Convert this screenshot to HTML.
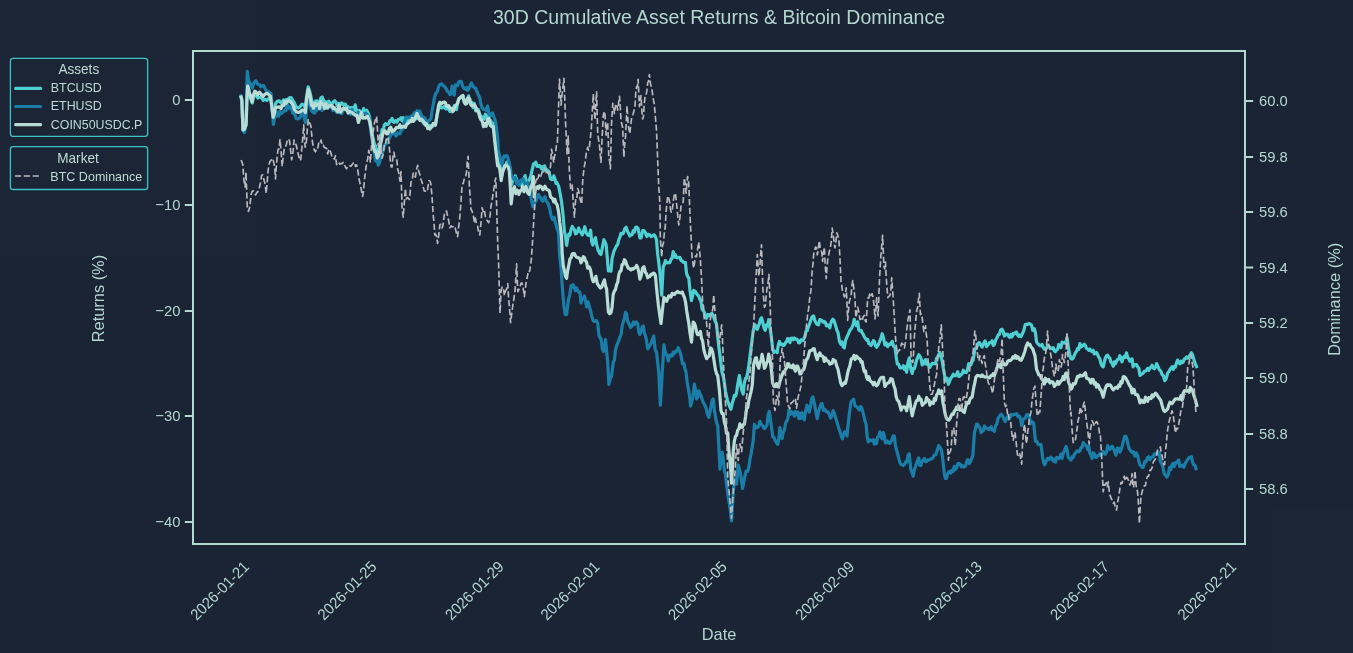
<!DOCTYPE html>
<html><head><meta charset="utf-8"><title>30D Cumulative Asset Returns &amp; Bitcoin Dominance</title>
<style>
html,body{margin:0;padding:0;background:#1c2536;}
body{width:1353px;height:653px;overflow:hidden;}
svg{display:block;will-change:transform;opacity:0.999;}
text{font-family:"Liberation Sans",Arial,sans-serif;fill:#b3d7d1;}
.tk{font-size:14.8px;}
.ax{font-size:16.4px;}
.lg{font-size:12.4px;fill:#bedcd6;}
.lt{font-size:13.6px;fill:#bedcd6;}
</style></head><body>
<svg width="1353" height="653" viewBox="0 0 1353 653">
<rect x="0" y="0" width="1353" height="653" fill="#1c2536"/>
<text x="719" y="24.1" text-anchor="middle" style="font-size:19.5px">30D Cumulative Asset Returns &amp; Bitcoin Dominance</text>
<g fill="none" stroke-linejoin="round" stroke-linecap="butt">
<path d="M240.6 95.5 L241.8 100.5 L243.0 130.1 L244.3 130.6 L246.1 122.9 L247.0 95.1 L247.7 85.7 L249.2 90.8 L250.4 97.7 L252.2 103.1 L253.4 96.9 L254.7 94.9 L255.9 95.2 L257.7 98.0 L259.6 97.3 L261.4 97.0 L263.2 100.4 L265.1 99.3 L266.9 100.5 L268.8 98.2 L270.6 97.8 L271.8 106.6 L273.1 115.3 L274.3 109.9 L275.5 103.7 L277.3 101.3 L279.2 100.9 L281.0 103.0 L282.2 101.9 L283.5 100.0 L284.7 101.3 L285.9 99.9 L287.8 99.4 L289.6 97.6 L291.4 97.9 L292.7 100.3 L294.5 103.1 L296.3 107.3 L298.2 107.9 L300.0 106.8 L301.9 104.2 L303.7 105.0 L305.3 107.7 L306.5 97.5 L308.2 86.9 L309.8 91.6 L311.4 98.8 L312.4 103.5 L313.5 102.5 L314.7 104.0 L315.9 100.9 L317.1 100.9 L318.4 102.4 L319.6 102.9 L320.8 97.8 L322.1 97.0 L323.3 99.8 L324.6 102.1 L325.8 101.9 L327.3 102.6 L328.8 101.3 L330.4 103.4 L332.0 103.5 L333.4 102.0 L334.7 100.7 L336.1 102.5 L337.4 106.0 L338.8 103.3 L340.1 104.8 L341.5 102.9 L342.8 104.4 L344.2 104.1 L345.5 104.4 L346.9 108.1 L348.2 106.8 L349.6 109.4 L351.0 107.6 L352.4 107.6 L353.8 110.1 L355.2 104.9 L356.6 111.1 L358.0 112.2 L359.4 110.4 L360.7 114.5 L362.1 113.8 L363.6 108.6 L365.1 111.8 L366.6 110.1 L368.1 112.9 L369.5 116.4 L370.8 127.9 L372.1 134.5 L373.2 138.8 L374.4 144.0 L375.5 145.8 L376.6 151.7 L377.7 149.9 L378.8 150.2 L379.9 146.5 L381.0 136.9 L382.1 129.5 L383.2 130.8 L384.3 125.1 L385.4 123.6 L386.6 124.6 L387.7 124.3 L388.8 123.6 L389.9 120.7 L391.0 120.8 L392.1 118.5 L393.2 121.6 L394.3 122.4 L395.6 120.6 L397.0 122.0 L398.3 119.5 L399.7 119.1 L401.0 117.8 L402.1 120.7 L403.2 117.7 L404.3 122.8 L405.4 118.5 L406.6 121.3 L407.7 123.1 L409.0 120.3 L410.3 119.5 L411.7 120.0 L413.0 119.3 L414.3 118.8 L415.6 116.3 L417.0 118.7 L418.3 116.4 L419.9 117.0 L421.4 119.6 L422.7 121.9 L424.1 123.9 L425.4 123.7 L426.5 125.7 L427.7 125.0 L428.8 125.5 L429.9 125.3 L431.0 127.8 L432.1 126.5 L433.2 125.4 L434.3 123.7 L435.4 124.7 L437.0 116.1 L438.7 108.0 L440.2 106.0 L441.7 108.0 L443.2 107.3 L444.6 106.5 L445.9 108.9 L447.3 108.4 L448.7 109.2 L449.8 111.3 L451.0 111.3 L452.1 111.8 L453.2 108.1 L454.3 105.7 L455.4 107.1 L456.5 109.5 L457.6 102.9 L458.7 98.8 L460.1 98.2 L461.6 97.0 L463.0 96.3 L464.3 101.9 L465.4 100.1 L466.5 102.8 L467.6 100.0 L468.7 95.8 L469.9 103.2 L471.0 102.9 L472.1 102.4 L473.2 107.6 L474.3 103.5 L475.6 110.8 L476.9 108.8 L478.4 109.6 L479.8 114.4 L481.0 116.3 L482.1 117.9 L483.2 117.0 L484.3 119.0 L485.4 114.2 L486.5 115.5 L487.6 116.3 L489.0 122.9 L490.3 120.1 L491.8 122.7 L493.2 123.2 L494.3 130.9 L495.4 140.7 L496.8 153.6 L498.3 163.6 L499.4 163.9 L500.5 168.2 L502.0 175.0 L503.4 168.8 L504.5 165.5 L505.6 165.5 L506.8 162.1 L507.9 165.4 L509.8 168.1 L510.8 178.1 L511.8 184.4 L513.0 177.7 L514.1 179.7 L515.2 175.9 L516.3 178.6 L517.4 183.2 L518.5 181.7 L519.6 182.3 L520.7 184.9 L521.8 182.2 L522.9 183.3 L524.0 178.6 L525.1 175.6 L526.2 182.9 L527.3 181.4 L528.4 181.4 L529.5 179.2 L530.6 177.1 L532.1 170.0 L533.6 163.9 L534.7 164.0 L535.8 162.1 L536.9 166.3 L538.0 166.4 L539.1 165.6 L540.2 166.4 L541.3 168.5 L542.4 166.8 L543.5 171.0 L544.6 165.9 L545.7 169.2 L546.8 169.7 L547.9 170.6 L549.0 171.8 L550.5 178.7 L551.6 179.6 L552.7 179.5 L553.8 175.9 L554.9 178.9 L556.0 183.4 L557.1 182.8 L558.6 186.1 L560.1 193.7 L561.5 201.5 L563.0 214.2 L563.7 222.8 L564.5 232.2 L565.5 236.2 L566.6 245.4 L567.7 238.4 L568.8 234.1 L569.9 235.1 L571.1 229.3 L572.2 226.5 L573.3 228.1 L574.4 229.6 L575.5 233.8 L576.6 233.3 L577.7 230.6 L578.8 227.9 L579.9 231.9 L581.1 232.0 L582.2 234.9 L583.5 231.3 L584.8 226.7 L586.2 233.1 L587.7 235.1 L589.2 235.3 L590.6 230.2 L591.7 241.8 L592.8 245.1 L594.1 240.2 L595.5 237.7 L596.8 245.4 L598.1 250.0 L599.5 253.2 L601.0 254.5 L602.5 246.7 L603.9 239.7 L605.0 242.0 L606.1 244.6 L607.2 257.1 L608.4 271.0 L609.7 270.6 L611.0 271.2 L612.1 258.4 L613.2 253.8 L614.3 250.2 L615.5 247.9 L616.6 245.8 L617.7 244.5 L618.8 239.6 L619.9 237.1 L621.0 233.3 L622.1 233.9 L623.2 233.5 L624.7 228.9 L626.1 227.3 L627.5 231.3 L628.8 233.7 L629.9 236.1 L631.0 234.6 L632.1 234.6 L633.2 230.7 L634.4 232.1 L635.5 227.3 L636.8 227.1 L638.1 228.6 L639.9 238.0 L641.2 237.8 L642.6 230.7 L644.0 230.6 L645.4 232.6 L646.8 236.5 L648.3 234.3 L649.6 234.8 L651.0 236.6 L652.1 236.3 L653.2 235.2 L654.3 234.8 L655.4 236.5 L656.5 239.9 L657.6 253.5 L658.8 262.9 L660.3 277.2 L661.7 295.1 L663.2 266.7 L664.3 264.5 L665.4 260.6 L666.5 262.9 L667.7 262.4 L668.8 262.9 L669.9 262.5 L671.0 259.2 L672.1 258.2 L673.2 251.5 L674.3 257.0 L675.4 254.7 L676.5 257.7 L677.7 257.7 L678.8 257.4 L679.9 257.3 L681.0 260.4 L682.1 260.7 L683.2 262.2 L684.3 262.3 L685.4 262.4 L686.5 273.2 L687.6 276.3 L688.8 278.2 L689.9 289.7 L691.4 300.6 L692.5 296.1 L693.6 290.4 L695.0 291.1 L696.5 293.6 L697.6 294.9 L698.7 296.2 L699.9 299.3 L701.0 301.4 L702.1 309.4 L703.2 310.6 L704.3 312.1 L705.4 317.3 L706.5 318.2 L707.6 314.6 L708.7 314.7 L709.8 315.8 L711.0 313.9 L712.1 313.4 L713.2 315.4 L714.3 319.0 L715.4 321.5 L716.5 324.1 L717.7 336.3 L718.8 346.3 L719.9 355.0 L721.0 364.3 L722.1 372.7 L723.2 376.1 L724.3 382.1 L725.5 391.5 L726.6 396.6 L727.7 401.3 L728.8 404.3 L729.9 407.3 L731.0 409.2 L732.1 403.6 L733.3 399.8 L734.4 395.5 L735.5 396.2 L736.6 392.8 L737.7 384.3 L739.4 375.6 L741.0 386.6 L742.1 391.2 L743.2 394.1 L744.3 383.2 L745.4 378.6 L746.5 378.2 L747.7 372.6 L748.8 365.7 L749.9 356.7 L751.4 345.3 L753.2 331.0 L755.0 324.8 L756.1 327.9 L757.2 329.4 L758.3 326.4 L759.4 323.6 L760.5 319.0 L761.6 317.8 L762.8 322.5 L763.9 327.5 L765.2 330.3 L766.5 324.9 L767.6 325.7 L768.7 319.7 L769.9 327.3 L771.0 334.0 L772.7 349.1 L773.9 352.4 L775.0 351.1 L776.1 351.6 L777.2 352.6 L778.3 345.0 L779.4 341.5 L780.8 344.6 L782.1 344.2 L783.2 345.4 L784.3 345.1 L785.4 342.8 L786.5 341.7 L787.6 338.6 L788.7 338.8 L789.9 342.6 L791.0 338.3 L792.1 338.2 L793.2 339.8 L794.3 338.0 L795.4 339.1 L796.5 339.0 L797.6 340.0 L798.7 342.9 L799.9 342.6 L801.0 339.8 L802.4 340.7 L803.8 338.9 L805.0 335.9 L806.1 330.8 L807.2 330.7 L808.3 327.1 L809.6 323.7 L810.9 319.9 L812.2 316.7 L813.6 316.0 L814.8 320.4 L816.0 322.9 L817.2 324.4 L818.5 324.8 L819.8 319.6 L820.9 320.0 L822.1 320.7 L823.2 322.3 L824.3 321.5 L825.4 322.5 L826.5 325.9 L827.6 324.8 L828.7 325.7 L829.8 327.9 L831.2 321.8 L832.7 319.2 L834.0 320.5 L835.4 324.9 L836.7 329.7 L838.0 332.6 L839.5 341.8 L840.9 344.2 L842.0 341.8 L843.2 346.8 L844.3 347.9 L845.6 340.2 L846.9 337.1 L848.3 334.3 L849.8 330.4 L850.9 329.2 L852.0 327.5 L853.1 324.5 L854.2 319.3 L855.4 323.4 L856.5 325.7 L857.7 321.9 L858.8 330.0 L860.0 330.9 L861.1 330.4 L862.2 332.9 L863.3 334.5 L864.4 337.0 L865.5 338.4 L866.6 340.0 L867.7 339.5 L868.9 343.7 L870.0 344.0 L871.1 345.5 L872.2 343.5 L873.3 340.6 L874.4 341.3 L875.5 346.0 L876.6 347.2 L878.0 345.3 L879.5 341.9 L880.9 338.3 L882.2 333.7 L883.5 337.7 L884.9 345.0 L886.3 343.0 L887.7 346.7 L889.2 344.2 L890.7 344.3 L892.2 341.3 L893.7 346.5 L895.1 348.0 L896.2 356.8 L897.3 363.9 L898.6 364.3 L900.0 367.9 L901.1 368.0 L902.2 367.5 L903.3 365.8 L904.4 369.4 L905.5 366.5 L906.6 372.3 L908.0 362.3 L909.3 357.9 L910.8 369.1 L912.2 373.4 L913.3 368.3 L914.4 368.6 L915.5 364.5 L916.6 360.0 L917.7 357.5 L918.8 354.7 L919.9 356.2 L921.1 358.7 L922.2 365.0 L923.3 361.3 L924.4 363.7 L925.5 359.6 L926.6 364.0 L927.7 362.4 L928.8 366.1 L929.9 367.4 L931.1 364.9 L932.2 363.4 L933.3 363.7 L934.4 363.7 L935.5 363.9 L936.6 358.4 L937.7 356.8 L938.8 354.5 L939.9 352.4 L941.0 356.5 L942.1 360.6 L943.3 368.2 L944.4 374.2 L945.5 380.9 L947.0 378.2 L948.4 384.3 L949.7 380.9 L951.0 377.8 L952.1 376.7 L953.3 374.2 L954.4 375.7 L955.5 375.7 L956.6 374.4 L957.7 371.7 L958.8 376.5 L959.9 376.0 L961.0 374.5 L962.1 374.1 L963.3 370.2 L964.4 372.1 L965.5 372.4 L966.6 372.3 L967.7 368.4 L968.8 363.6 L969.9 364.8 L971.0 364.7 L972.1 361.3 L973.2 360.1 L975.0 348.6 L976.4 348.5 L977.7 343.9 L979.2 342.4 L980.6 344.9 L982.1 347.1 L983.6 343.4 L985.1 340.9 L986.6 346.6 L988.1 344.8 L989.5 342.5 L991.0 342.7 L992.1 340.7 L993.2 345.4 L994.3 344.5 L995.8 339.8 L997.2 337.3 L998.3 334.7 L999.4 334.4 L1000.5 330.2 L1001.7 329.2 L1003.0 330.6 L1004.3 336.0 L1005.4 334.9 L1006.6 334.1 L1007.7 334.3 L1008.8 336.7 L1009.9 337.4 L1011.0 334.4 L1012.1 336.8 L1013.2 333.5 L1014.3 333.9 L1015.4 332.6 L1016.6 332.1 L1017.7 335.2 L1018.8 336.3 L1019.9 335.0 L1021.0 336.6 L1022.5 333.5 L1023.9 330.3 L1025.2 324.5 L1026.5 324.2 L1027.7 324.5 L1028.8 323.6 L1030.1 324.0 L1031.4 324.8 L1032.8 330.3 L1034.3 328.6 L1035.4 332.5 L1036.5 341.7 L1037.7 343.8 L1038.8 344.4 L1039.9 345.6 L1041.0 345.8 L1042.1 344.5 L1043.2 347.2 L1044.3 349.2 L1045.4 349.3 L1046.5 348.2 L1047.6 345.5 L1048.7 346.2 L1049.9 347.4 L1051.0 348.6 L1052.1 348.3 L1053.2 347.6 L1054.3 350.9 L1055.4 351.7 L1056.5 349.9 L1057.6 349.4 L1058.7 344.5 L1059.9 346.5 L1061.0 347.5 L1062.1 342.1 L1063.2 343.1 L1064.3 342.7 L1065.7 343.4 L1067.0 337.7 L1068.7 349.4 L1069.8 354.7 L1071.0 358.7 L1072.1 359.1 L1073.2 358.1 L1074.3 355.4 L1075.4 352.8 L1076.5 351.4 L1077.6 348.5 L1078.7 349.5 L1079.9 343.5 L1081.0 347.0 L1082.1 346.0 L1083.2 345.4 L1084.3 344.1 L1085.4 345.7 L1086.5 348.3 L1087.6 349.0 L1088.7 350.2 L1089.8 349.0 L1090.9 350.9 L1092.0 351.5 L1093.2 350.3 L1094.3 353.9 L1095.4 353.5 L1096.5 352.5 L1097.6 354.6 L1098.7 357.2 L1099.8 358.5 L1100.9 363.4 L1102.1 366.0 L1103.2 366.9 L1104.3 362.3 L1105.4 357.7 L1106.5 355.7 L1107.6 355.1 L1108.7 357.3 L1109.8 358.0 L1110.9 362.0 L1112.0 363.1 L1113.2 366.3 L1114.3 361.9 L1115.4 363.9 L1116.5 361.1 L1117.6 359.4 L1118.7 359.4 L1119.8 355.7 L1120.9 357.7 L1122.0 361.8 L1123.2 358.0 L1124.3 356.3 L1125.4 357.4 L1126.5 352.9 L1127.6 357.0 L1128.7 358.7 L1129.8 361.2 L1130.9 361.1 L1132.0 358.8 L1133.1 366.9 L1134.2 364.5 L1135.3 365.0 L1136.5 364.6 L1137.6 366.8 L1138.8 368.1 L1140.0 375.4 L1141.6 374.2 L1143.2 373.1 L1144.3 371.3 L1145.5 370.9 L1146.6 370.0 L1147.7 368.4 L1148.8 370.3 L1149.9 367.9 L1151.0 367.2 L1152.1 365.3 L1153.2 367.9 L1154.3 368.7 L1155.5 367.2 L1156.6 363.6 L1158.0 366.5 L1159.4 369.8 L1160.8 371.1 L1162.1 374.6 L1163.4 375.8 L1164.8 380.7 L1166.2 378.7 L1167.7 372.9 L1168.8 371.9 L1169.9 369.7 L1171.0 368.0 L1172.1 366.7 L1173.2 369.4 L1174.3 366.4 L1175.4 367.0 L1176.5 363.0 L1177.6 360.1 L1178.8 362.8 L1179.9 363.7 L1181.0 361.2 L1182.1 362.8 L1183.2 361.9 L1184.3 359.1 L1185.4 358.7 L1186.5 356.9 L1187.8 358.1 L1189.2 356.2 L1190.3 354.8 L1191.4 352.8 L1192.5 354.7 L1193.6 358.5 L1195.4 364.2 L1197.2 368.0" stroke="#4fd0d3" stroke-width="3.2"/>
<path d="M240.6 94.3 L241.8 101.8 L243.0 129.2 L244.3 132.7 L246.1 125.2 L246.7 91.5 L247.3 71.4 L248.5 80.3 L250.4 83.7 L252.2 88.2 L254.1 82.4 L255.9 80.8 L257.7 84.2 L259.6 84.7 L260.8 86.8 L262.0 85.7 L263.9 85.9 L265.7 90.1 L267.5 91.5 L269.4 92.3 L271.2 94.0 L272.2 109.3 L273.4 124.4 L274.6 117.9 L276.1 116.0 L277.4 112.1 L278.6 116.1 L279.8 111.7 L281.0 113.7 L282.2 112.7 L283.5 111.7 L284.7 110.4 L285.9 110.7 L287.1 102.3 L288.4 108.7 L289.6 107.5 L290.8 106.6 L292.7 113.0 L294.5 113.9 L296.3 118.6 L298.2 118.9 L300.0 117.8 L301.9 113.2 L303.7 115.7 L305.3 122.5 L306.8 107.2 L308.2 95.3 L309.8 102.9 L311.7 111.0 L313.5 112.6 L314.7 113.0 L315.9 108.4 L317.1 110.2 L318.4 106.9 L319.6 108.1 L320.8 105.8 L322.1 110.5 L323.3 108.2 L324.6 106.2 L325.8 105.5 L327.3 106.0 L328.8 107.8 L330.4 105.6 L332.0 108.0 L333.1 110.5 L334.3 109.4 L335.5 109.6 L336.6 112.4 L337.9 110.6 L339.1 112.7 L340.4 110.1 L341.7 113.7 L343.0 109.7 L344.2 107.8 L345.5 110.0 L346.8 109.2 L348.0 109.4 L349.3 111.8 L350.6 114.4 L351.9 109.3 L353.1 114.4 L354.4 115.2 L355.7 114.8 L356.9 116.6 L358.2 112.1 L359.4 116.0 L360.7 114.0 L361.9 114.5 L363.2 114.0 L364.6 113.5 L366.0 113.1 L367.4 115.0 L368.8 116.6 L369.9 124.4 L371.0 132.2 L372.1 139.3 L373.2 144.3 L374.4 153.1 L375.5 161.0 L376.9 158.8 L378.3 165.2 L379.6 162.4 L381.0 156.8 L382.1 153.6 L383.2 150.4 L384.3 145.7 L385.4 144.3 L386.6 143.5 L387.7 139.1 L389.2 138.5 L390.6 135.3 L392.1 133.5 L393.4 132.2 L394.7 134.5 L396.0 136.1 L397.3 132.9 L398.6 133.7 L399.9 133.9 L401.2 130.4 L402.5 129.5 L403.8 125.4 L405.1 119.7 L406.4 117.2 L407.7 117.4 L409.0 117.3 L410.3 117.9 L411.7 115.7 L413.0 115.2 L414.3 112.6 L415.6 116.2 L417.0 110.7 L418.3 112.8 L419.6 111.0 L420.8 113.6 L422.1 116.7 L423.6 117.2 L425.0 118.1 L426.5 122.1 L428.0 121.6 L429.5 120.3 L431.0 118.4 L432.1 110.4 L433.2 104.9 L434.8 96.0 L436.1 93.2 L437.4 91.4 L438.7 86.4 L440.2 84.2 L441.7 83.8 L443.2 85.8 L444.3 86.2 L445.4 87.8 L446.5 89.2 L447.6 91.5 L448.8 92.1 L449.9 94.6 L451.0 94.2 L452.1 86.1 L453.2 90.9 L454.3 95.1 L455.4 84.8 L456.5 85.6 L457.6 85.8 L458.7 81.8 L459.8 81.5 L461.2 81.3 L462.7 86.4 L464.0 88.5 L465.4 89.2 L466.5 87.5 L467.6 90.4 L468.7 89.2 L470.0 86.1 L471.4 82.9 L472.9 86.1 L474.3 87.7 L475.6 88.0 L476.9 91.7 L478.4 95.1 L479.8 97.8 L481.0 104.6 L482.1 107.6 L483.5 109.1 L484.9 109.4 L486.2 110.4 L487.6 106.1 L489.0 114.2 L490.3 116.1 L491.4 114.0 L492.5 112.9 L493.6 116.0 L494.7 118.8 L495.8 123.1 L497.6 137.6 L498.3 151.0 L499.8 156.4 L500.9 160.7 L502.0 163.8 L503.1 159.1 L504.2 155.9 L505.3 156.8 L506.4 155.5 L507.5 156.6 L508.6 160.2 L510.1 166.4 L511.5 177.0 L512.6 177.1 L513.7 179.0 L515.2 177.4 L516.7 183.5 L517.8 180.8 L518.9 185.3 L520.0 182.9 L521.1 180.1 L522.2 180.9 L523.3 178.6 L524.4 183.0 L525.5 183.4 L526.6 184.1 L527.7 182.3 L528.8 190.4 L529.9 191.6 L531.4 199.7 L532.9 206.7 L534.0 206.4 L535.1 200.8 L536.2 201.0 L537.3 197.4 L538.4 194.6 L539.5 196.3 L540.6 197.7 L541.7 200.0 L542.8 201.1 L543.9 198.5 L545.0 196.7 L546.1 200.9 L547.2 202.4 L548.3 203.7 L549.8 209.0 L551.2 216.3 L552.7 219.6 L554.2 217.1 L555.6 223.3 L557.1 228.5 L558.6 233.3 L559.5 254.3 L561.1 268.6 L562.6 290.7 L563.9 306.0 L565.2 314.5 L566.6 314.6 L568.4 299.7 L569.8 294.6 L571.1 285.7 L572.2 287.1 L573.3 284.6 L574.4 288.4 L575.5 290.7 L576.6 287.9 L577.7 290.1 L578.8 292.4 L579.9 292.2 L581.0 302.9 L582.1 299.7 L583.3 298.6 L584.4 295.9 L585.5 300.3 L586.6 307.0 L588.0 301.8 L589.3 306.3 L590.7 311.3 L592.1 317.5 L593.5 321.3 L595.0 321.3 L596.4 320.5 L597.7 323.1 L598.9 334.9 L600.0 338.0 L601.1 338.6 L602.2 348.1 L603.3 351.6 L604.4 347.5 L605.5 339.7 L606.6 350.8 L607.7 362.5 L608.9 384.3 L610.2 378.6 L611.5 376.3 L613.3 362.2 L614.4 360.1 L615.5 349.9 L616.9 345.1 L618.2 341.9 L619.7 337.8 L621.1 334.5 L622.2 325.4 L623.3 322.0 L624.4 318.2 L625.5 312.3 L626.6 314.1 L627.7 321.2 L629.2 324.4 L630.6 327.5 L632.0 326.0 L633.3 322.1 L634.4 324.7 L635.5 322.1 L636.6 322.2 L637.7 324.1 L638.8 332.1 L639.9 334.5 L641.0 331.5 L642.2 327.0 L643.3 326.0 L644.4 333.1 L645.5 335.9 L646.6 340.6 L647.7 348.9 L648.8 347.1 L650.0 345.2 L651.1 343.3 L652.4 339.4 L653.7 336.1 L655.2 349.7 L656.6 352.5 L657.7 362.9 L658.8 372.9 L660.4 405.2 L662.2 373.1 L663.9 344.9 L665.0 351.0 L666.2 354.5 L667.3 356.4 L668.4 361.0 L669.5 355.1 L670.6 355.1 L672.0 356.1 L673.3 352.1 L674.4 353.7 L675.5 351.4 L676.8 351.1 L678.1 347.7 L679.5 350.7 L681.0 355.2 L682.5 363.9 L683.9 363.4 L685.0 368.9 L686.1 372.3 L687.2 382.5 L688.4 388.9 L689.5 396.0 L690.6 406.1 L691.7 402.4 L692.8 396.2 L694.4 384.0 L695.5 390.6 L696.6 398.8 L697.7 397.3 L698.8 390.8 L699.9 393.7 L701.0 396.0 L702.1 399.3 L703.2 402.2 L704.7 405.0 L706.1 408.2 L707.5 414.5 L708.8 417.3 L709.9 412.6 L711.0 406.4 L712.1 400.5 L713.2 399.0 L714.4 410.2 L715.5 416.7 L716.6 422.9 L717.7 425.3 L718.8 446.2 L720.0 469.1 L721.1 456.7 L722.2 452.4 L723.3 459.5 L724.4 470.9 L725.5 474.7 L726.6 485.0 L727.7 493.4 L728.8 500.3 L730.6 512.0 L731.5 520.8 L732.8 499.3 L734.4 478.9 L735.5 481.6 L736.6 484.0 L738.2 465.2 L739.3 468.6 L740.4 473.1 L741.5 480.7 L742.6 488.4 L743.7 482.6 L744.8 476.6 L746.2 471.2 L747.7 471.3 L748.8 467.4 L749.9 459.7 L751.0 454.2 L752.2 446.7 L753.3 440.0 L754.4 424.3 L755.8 427.9 L757.3 427.5 L758.6 426.3 L759.9 421.4 L761.2 424.6 L762.6 425.5 L763.7 428.1 L764.8 428.5 L765.9 426.7 L767.0 424.8 L768.1 415.0 L769.3 411.3 L771.0 423.4 L772.8 437.0 L773.9 437.0 L775.0 440.1 L776.4 442.5 L777.7 444.4 L778.8 438.8 L779.9 427.6 L781.0 434.6 L782.1 438.5 L783.2 432.5 L784.4 430.0 L785.5 423.5 L786.6 421.1 L787.7 419.4 L788.8 410.4 L790.1 414.5 L791.5 411.7 L793.0 412.8 L794.4 416.2 L795.5 411.6 L796.6 414.8 L797.7 412.1 L798.8 418.6 L799.9 413.4 L801.0 418.4 L802.1 412.7 L803.2 417.6 L804.3 419.8 L805.6 411.3 L807.0 405.2 L808.1 407.9 L809.2 412.0 L810.4 407.3 L811.5 399.1 L812.9 396.9 L814.3 403.1 L815.8 411.4 L817.2 418.7 L818.5 412.0 L819.9 407.4 L821.0 403.9 L822.1 403.6 L823.5 410.3 L824.8 409.4 L826.2 411.8 L827.7 411.6 L829.2 414.1 L830.6 418.1 L831.9 415.9 L833.2 410.7 L834.5 413.8 L835.9 418.7 L837.0 422.1 L838.1 425.8 L839.2 429.6 L840.3 432.5 L841.4 436.3 L842.5 438.9 L843.6 434.4 L844.8 431.6 L845.9 432.7 L847.0 436.0 L848.1 424.5 L849.2 414.7 L851.0 402.0 L852.3 400.5 L853.6 399.2 L855.0 405.8 L856.5 406.7 L858.0 408.2 L859.4 410.1 L860.5 406.6 L861.6 407.3 L862.8 411.7 L863.9 416.2 L865.0 421.1 L866.1 424.0 L867.2 436.8 L868.3 441.9 L869.6 439.8 L871.0 440.5 L872.1 440.8 L873.2 439.6 L874.3 444.1 L875.4 440.4 L876.5 443.6 L877.6 437.1 L878.7 436.4 L879.9 431.9 L881.0 436.4 L882.1 438.8 L883.2 432.6 L884.3 435.7 L885.4 443.0 L886.5 441.4 L887.6 441.1 L888.7 443.3 L889.8 443.5 L891.0 441.6 L892.1 439.1 L893.2 435.9 L894.3 436.1 L895.4 445.4 L896.5 449.8 L897.6 453.9 L898.7 458.2 L899.9 462.5 L901.0 464.4 L902.1 464.7 L903.2 465.5 L904.3 464.7 L905.6 461.9 L906.9 462.1 L908.0 455.5 L909.2 453.8 L910.9 470.1 L912.0 472.3 L913.2 476.2 L914.3 470.0 L915.4 467.0 L916.5 463.2 L917.6 460.5 L918.7 458.0 L919.8 465.3 L920.9 465.5 L922.0 461.2 L923.2 460.3 L924.3 458.5 L925.4 461.6 L926.5 461.6 L927.6 459.8 L928.7 459.8 L929.8 459.7 L930.9 458.8 L932.0 458.9 L933.2 457.3 L934.3 455.0 L935.7 454.7 L937.1 450.9 L938.7 445.5 L940.3 448.0 L941.4 449.9 L942.5 456.7 L944.3 473.5 L945.4 478.4 L946.5 478.4 L947.6 474.0 L948.7 472.2 L949.8 471.1 L950.9 473.1 L952.0 470.5 L953.1 471.4 L954.3 466.5 L955.4 469.5 L956.5 468.1 L957.7 463.7 L958.9 463.3 L960.0 464.0 L961.3 466.9 L962.6 465.6 L964.0 467.0 L965.5 466.1 L966.6 461.8 L967.7 459.6 L969.2 463.6 L970.6 461.4 L971.8 458.1 L972.9 455.1 L974.4 433.0 L975.5 428.6 L976.6 424.2 L977.7 424.3 L978.9 427.1 L980.0 427.7 L981.1 432.6 L982.2 430.7 L983.3 430.9 L984.4 426.0 L985.5 428.3 L986.6 428.0 L987.7 428.8 L988.9 429.6 L990.0 428.0 L991.1 426.6 L992.2 430.1 L993.3 430.3 L994.4 431.3 L995.5 425.7 L996.6 424.6 L998.2 418.0 L999.7 416.0 L1001.1 414.2 L1002.5 415.6 L1003.9 419.2 L1005.2 421.6 L1006.6 418.1 L1007.7 416.8 L1008.8 419.2 L1009.9 417.6 L1011.3 414.5 L1012.8 415.2 L1014.1 414.3 L1015.3 414.3 L1016.6 413.6 L1018.0 416.7 L1019.5 416.2 L1020.6 419.3 L1021.7 425.6 L1023.1 419.2 L1024.4 418.6 L1025.5 417.9 L1026.6 414.9 L1027.7 414.6 L1029.2 415.8 L1030.6 423.6 L1032.2 421.7 L1033.7 423.4 L1035.5 441.4 L1036.8 441.2 L1038.1 444.5 L1039.5 444.7 L1041.0 444.5 L1042.6 457.0 L1043.7 463.2 L1044.8 464.7 L1046.2 460.8 L1047.7 458.4 L1049.2 459.5 L1050.6 457.1 L1051.9 458.3 L1053.2 461.0 L1054.3 459.1 L1055.5 462.2 L1056.6 457.7 L1057.7 457.6 L1058.8 458.6 L1059.9 457.1 L1061.0 454.1 L1062.1 458.4 L1063.2 453.5 L1064.7 450.0 L1066.1 446.4 L1067.2 450.4 L1068.3 457.4 L1069.7 458.6 L1071.0 460.1 L1072.1 456.9 L1073.2 457.4 L1074.3 454.5 L1075.4 453.0 L1076.6 451.3 L1077.7 450.8 L1078.8 451.6 L1079.9 451.0 L1081.0 447.4 L1082.1 447.5 L1083.2 442.5 L1084.3 444.2 L1085.4 445.2 L1086.6 445.9 L1087.7 449.6 L1088.8 446.4 L1089.9 453.5 L1091.0 455.2 L1092.1 458.5 L1093.2 452.7 L1094.3 453.8 L1095.4 457.4 L1096.6 457.4 L1097.7 455.6 L1098.8 455.5 L1099.9 453.5 L1101.0 455.6 L1102.1 454.1 L1103.2 451.5 L1104.3 452.8 L1105.4 454.3 L1106.6 452.1 L1107.7 445.7 L1108.8 448.3 L1109.9 449.3 L1111.0 447.5 L1112.3 446.3 L1113.6 449.0 L1114.8 451.9 L1115.9 455.2 L1117.3 448.0 L1118.8 448.4 L1119.9 452.1 L1121.0 449.9 L1122.1 446.4 L1123.4 441.0 L1124.8 436.3 L1125.9 436.3 L1127.0 439.5 L1128.1 444.9 L1129.2 448.7 L1130.7 450.9 L1132.1 452.5 L1133.5 451.8 L1135.0 456.1 L1136.3 452.9 L1137.6 455.5 L1138.8 460.9 L1139.9 464.9 L1141.0 466.0 L1142.1 467.3 L1143.2 467.4 L1144.7 461.7 L1146.1 461.8 L1147.4 457.6 L1148.7 456.7 L1149.8 459.7 L1151.0 458.1 L1152.1 456.9 L1153.2 456.7 L1154.3 453.8 L1155.4 454.6 L1156.8 452.8 L1158.1 454.8 L1159.2 452.5 L1160.3 461.5 L1161.8 463.3 L1163.2 468.5 L1164.3 474.0 L1165.4 474.8 L1166.8 477.1 L1168.3 474.5 L1169.6 467.3 L1170.9 469.7 L1172.0 464.6 L1173.2 463.5 L1174.3 466.5 L1175.4 462.6 L1176.5 463.0 L1177.6 461.0 L1178.7 460.1 L1179.8 466.5 L1180.9 466.0 L1182.3 465.1 L1183.8 467.2 L1185.2 463.3 L1186.5 461.4 L1187.8 459.3 L1189.2 457.3 L1190.3 457.6 L1191.4 456.6 L1192.5 461.9 L1193.6 464.6 L1195.0 465.4 L1196.5 470.2" stroke="#1b7fa9" stroke-width="3.2"/>
<path d="M240.6 95.5 L241.8 99.3 L243.0 129.9 L244.3 129.5 L246.1 124.7 L247.0 96.5 L247.7 86.0 L249.2 92.6 L250.4 95.7 L252.2 101.7 L253.4 95.1 L254.7 91.2 L255.9 91.9 L257.7 94.9 L259.6 92.1 L261.4 94.5 L263.2 96.3 L265.1 94.1 L266.9 93.3 L268.8 94.5 L270.6 96.6 L271.8 106.4 L273.1 117.3 L274.3 114.0 L275.5 107.6 L277.3 107.1 L279.2 106.8 L281.0 108.6 L282.2 105.3 L283.5 105.6 L284.7 101.2 L285.9 103.6 L287.8 100.6 L289.6 100.8 L291.4 102.9 L292.7 104.3 L294.5 109.8 L296.3 111.8 L298.2 112.4 L300.0 112.0 L301.9 110.2 L303.7 110.1 L305.3 112.5 L306.5 99.8 L308.2 89.4 L309.8 94.5 L311.4 105.3 L312.4 104.8 L313.5 108.3 L314.7 103.3 L315.9 105.5 L317.1 104.5 L318.4 103.8 L319.6 108.7 L320.8 101.6 L322.1 103.9 L323.3 104.2 L324.6 108.5 L325.8 103.9 L327.3 108.2 L328.8 105.5 L330.4 105.9 L332.0 105.3 L333.2 108.6 L334.4 107.6 L335.5 109.1 L336.6 110.3 L337.7 111.9 L339.2 105.0 L340.6 112.1 L342.1 109.8 L343.6 107.9 L345.1 109.4 L346.6 108.3 L348.1 113.1 L349.5 111.5 L351.0 112.0 L352.5 112.9 L354.0 114.0 L355.5 115.3 L357.0 115.3 L358.4 122.4 L359.9 118.0 L361.4 112.4 L362.9 118.2 L364.4 117.5 L365.5 118.0 L366.6 116.6 L367.7 116.4 L368.8 119.5 L369.9 122.1 L371.0 128.0 L372.1 136.2 L373.5 147.5 L374.8 151.6 L376.0 151.4 L377.2 157.9 L378.4 155.9 L379.5 152.7 L380.6 143.8 L381.7 139.1 L382.8 133.9 L383.9 131.1 L385.2 130.8 L386.6 133.9 L388.0 133.7 L389.4 128.3 L390.8 127.2 L392.1 131.8 L393.2 130.1 L394.3 130.4 L395.4 129.0 L396.5 127.4 L397.7 127.4 L398.8 127.7 L399.9 124.8 L401.0 127.5 L402.1 126.9 L403.2 126.6 L404.3 126.5 L405.4 127.4 L406.5 124.6 L407.7 123.6 L408.8 122.9 L409.9 121.3 L411.0 121.7 L412.1 118.5 L413.2 121.4 L414.3 120.1 L415.6 116.7 L417.0 113.4 L418.3 116.6 L419.9 120.4 L421.4 119.2 L422.7 120.5 L424.1 121.9 L425.4 125.1 L426.5 123.8 L427.7 128.5 L428.8 127.4 L429.9 129.1 L431.0 127.0 L432.1 126.4 L433.2 123.4 L434.3 124.6 L435.4 125.2 L437.0 115.1 L438.7 104.7 L439.8 102.3 L441.0 103.7 L442.1 103.2 L443.2 102.3 L444.3 102.1 L445.4 102.9 L446.5 105.9 L447.6 106.5 L448.7 105.6 L449.8 108.4 L451.0 108.0 L452.1 109.2 L453.2 111.2 L454.3 109.3 L455.4 105.8 L456.5 104.6 L457.6 103.2 L458.7 99.3 L460.1 97.5 L461.6 96.2 L463.0 95.5 L464.3 102.5 L465.4 104.2 L466.5 103.8 L467.6 98.0 L468.7 98.0 L469.9 99.4 L471.0 105.0 L472.1 105.9 L473.2 105.5 L474.3 104.7 L475.6 106.6 L476.9 110.9 L478.4 111.6 L479.8 117.1 L481.0 119.8 L482.1 120.8 L483.5 126.7 L484.9 123.4 L486.2 126.3 L487.6 119.0 L489.0 118.5 L490.3 125.4 L491.8 126.7 L493.2 126.3 L494.6 139.9 L496.1 152.7 L497.6 165.8 L498.7 166.0 L499.8 169.2 L501.2 180.6 L502.7 171.0 L503.8 169.4 L504.9 165.8 L506.0 165.3 L507.1 165.8 L508.2 167.0 L509.3 170.7 L510.1 183.2 L511.2 203.8 L513.0 189.0 L514.5 186.7 L515.9 193.6 L517.4 190.2 L518.9 194.5 L520.6 190.4 L521.6 190.0 L522.6 186.4 L524.0 191.8 L525.9 186.4 L527.7 192.8 L529.2 194.4 L530.6 187.9 L532.1 184.1 L533.3 176.7 L534.3 197.0 L535.4 188.8 L537.3 186.7 L538.4 188.5 L539.5 185.9 L540.6 186.3 L541.7 187.2 L542.8 189.7 L543.9 188.8 L545.0 186.2 L546.1 188.6 L547.2 189.8 L548.3 190.1 L549.4 191.0 L550.5 196.7 L551.6 197.8 L552.7 198.7 L553.8 201.9 L554.9 199.3 L556.0 203.5 L557.1 204.7 L558.6 212.0 L559.8 222.9 L560.8 229.9 L561.5 236.3 L562.2 253.6 L563.3 265.9 L564.4 270.8 L565.5 276.3 L566.6 278.3 L567.7 270.4 L568.8 265.2 L570.0 258.9 L571.1 257.8 L572.2 254.0 L573.3 253.5 L574.4 253.6 L575.5 256.0 L576.6 257.2 L577.7 257.5 L578.8 258.1 L579.9 258.5 L581.0 262.8 L582.1 260.9 L583.3 256.7 L584.4 257.6 L585.5 260.7 L586.6 262.2 L587.7 268.2 L589.2 266.9 L590.6 270.2 L592.0 278.0 L593.3 281.7 L594.6 280.6 L595.9 276.3 L597.3 283.6 L598.8 285.8 L600.2 288.0 L601.7 287.2 L603.0 283.1 L604.4 279.8 L605.5 285.8 L606.6 289.1 L608.4 312.0 L609.7 313.8 L611.0 312.8 L612.1 307.0 L613.2 294.4 L614.3 291.3 L615.5 289.5 L616.6 284.7 L617.7 282.4 L618.8 274.6 L619.9 271.4 L621.0 271.1 L622.1 264.6 L623.2 264.3 L624.4 259.7 L625.5 261.0 L626.9 265.3 L628.3 268.3 L629.6 268.8 L631.0 269.9 L632.1 268.6 L633.2 269.2 L634.3 268.0 L635.4 267.8 L636.6 265.4 L637.7 267.5 L638.8 272.1 L639.9 279.2 L641.2 275.8 L642.6 267.9 L644.0 266.7 L645.4 272.4 L646.5 273.7 L647.7 277.8 L648.8 276.5 L649.9 276.5 L651.0 274.3 L652.1 274.6 L653.2 273.2 L654.3 273.3 L655.4 275.5 L656.5 287.5 L658.3 304.7 L659.9 315.9 L661.0 323.5 L662.2 312.2 L663.9 297.4 L665.2 298.4 L666.6 301.4 L667.7 298.9 L668.8 295.9 L669.9 296.0 L671.0 297.0 L672.2 293.3 L673.3 294.2 L674.4 294.5 L675.5 293.0 L676.6 292.2 L677.7 291.5 L678.8 292.5 L679.9 292.7 L681.0 292.9 L682.2 291.9 L683.3 295.0 L684.4 297.4 L685.5 301.8 L686.6 310.2 L687.7 317.1 L688.8 323.2 L689.9 332.5 L691.5 342.1 L693.2 322.2 L694.4 323.3 L695.5 326.2 L696.6 332.2 L697.7 334.7 L699.0 334.1 L700.4 331.5 L701.5 338.5 L702.6 340.8 L703.7 349.0 L704.8 353.5 L706.6 358.7 L707.9 356.9 L709.2 356.0 L710.4 347.9 L711.5 348.8 L712.6 352.0 L713.7 358.4 L715.5 369.9 L716.6 373.7 L717.7 375.6 L719.4 390.0 L721.0 410.4 L722.1 413.7 L723.2 413.6 L724.3 421.7 L725.4 425.2 L726.5 433.3 L727.7 432.9 L728.8 449.6 L730.6 467.5 L731.5 483.1 L732.4 470.0 L733.3 450.4 L734.4 440.8 L735.5 436.3 L736.6 435.1 L737.7 430.1 L738.8 429.1 L739.9 423.9 L741.1 426.6 L742.2 427.4 L743.3 424.5 L744.4 424.3 L745.5 417.1 L746.6 408.5 L747.7 407.7 L748.8 400.5 L749.9 396.4 L751.0 391.9 L752.2 385.6 L753.6 364.8 L755.4 358.0 L756.5 357.9 L757.6 365.4 L758.8 368.2 L759.9 362.9 L761.0 360.7 L762.1 354.3 L763.2 359.7 L764.3 368.3 L765.4 366.9 L766.5 363.0 L767.6 361.1 L768.7 354.1 L769.9 359.1 L771.0 366.4 L772.7 383.3 L774.3 386.6 L775.4 386.4 L776.5 383.6 L777.6 386.8 L778.7 386.5 L779.9 381.6 L781.0 378.3 L782.1 375.2 L783.2 372.0 L784.3 372.7 L785.4 369.4 L786.5 368.1 L787.6 363.7 L788.7 363.9 L789.9 367.2 L791.0 366.2 L792.1 367.8 L793.2 364.9 L794.3 368.4 L795.4 371.2 L796.5 366.1 L797.6 366.1 L798.7 368.9 L799.9 373.9 L801.0 373.7 L802.4 370.4 L803.8 369.4 L805.0 365.3 L806.1 360.1 L807.2 358.9 L808.3 356.3 L809.6 351.0 L810.9 350.5 L812.0 350.2 L813.2 348.7 L814.3 348.8 L815.8 355.6 L817.2 359.7 L818.5 355.0 L819.8 352.9 L820.9 355.7 L822.1 355.8 L823.2 356.9 L824.3 361.5 L825.4 358.0 L826.5 360.3 L827.6 360.9 L828.7 361.6 L829.8 364.2 L830.9 363.6 L832.1 363.4 L833.2 359.5 L834.3 361.1 L835.4 360.9 L836.5 365.4 L838.0 369.3 L839.4 376.5 L840.7 382.9 L842.0 385.7 L843.1 384.4 L844.3 382.6 L845.4 383.3 L846.5 379.1 L847.6 373.4 L848.7 369.0 L849.8 366.4 L851.2 359.0 L852.7 358.3 L854.0 355.5 L855.2 359.5 L856.5 356.1 L857.7 357.6 L858.8 358.5 L860.0 359.1 L861.1 362.3 L862.2 361.7 L863.3 368.0 L864.4 371.8 L865.5 370.9 L866.6 377.5 L867.7 379.4 L868.9 376.7 L870.0 380.6 L871.1 381.6 L872.2 382.3 L873.3 384.8 L874.4 382.3 L875.5 384.7 L876.6 385.7 L878.0 384.1 L879.5 380.0 L880.9 377.8 L882.2 377.3 L883.5 377.3 L884.9 386.5 L886.3 384.4 L887.7 383.1 L889.2 382.5 L890.7 378.7 L892.2 379.0 L893.7 384.9 L895.1 389.1 L896.2 396.8 L897.3 400.1 L898.6 401.3 L900.0 405.6 L901.1 410.2 L902.2 407.4 L903.3 407.1 L904.4 406.9 L905.5 407.8 L906.6 410.8 L908.0 404.1 L909.3 396.7 L910.8 407.7 L912.2 415.8 L913.3 410.9 L914.4 407.2 L915.5 403.1 L916.6 400.6 L917.7 400.4 L918.8 396.2 L919.9 399.9 L921.1 399.2 L922.2 405.3 L923.3 404.2 L924.4 402.9 L925.5 402.5 L926.6 397.5 L927.7 400.3 L928.8 400.1 L929.9 405.2 L931.1 402.2 L932.2 402.8 L933.3 403.4 L934.4 398.3 L935.5 400.3 L936.6 394.9 L937.7 393.5 L938.8 390.0 L940.2 393.7 L941.7 391.0 L942.8 401.8 L943.9 406.8 L945.0 413.3 L946.2 417.6 L947.5 419.8 L948.8 420.1 L949.9 418.8 L951.0 416.1 L952.1 414.0 L953.2 414.4 L954.4 411.0 L955.5 409.8 L956.6 407.1 L957.7 409.4 L958.8 406.2 L959.9 410.1 L961.0 409.6 L962.1 409.9 L963.2 411.6 L964.4 412.5 L965.5 407.5 L966.6 404.0 L967.7 402.4 L968.8 403.0 L969.9 399.2 L971.0 397.7 L972.1 397.3 L973.7 387.7 L974.8 382.9 L975.9 377.1 L977.3 375.4 L978.8 375.7 L979.9 375.8 L981.0 376.6 L982.1 375.0 L983.6 376.5 L985.1 377.1 L986.6 376.7 L988.1 377.3 L989.5 377.8 L991.0 375.7 L992.1 375.6 L993.2 373.7 L994.3 375.8 L995.8 371.4 L997.2 367.4 L998.3 364.5 L999.4 365.0 L1000.8 367.6 L1002.1 361.6 L1003.2 362.7 L1004.3 364.9 L1005.4 364.9 L1006.5 364.2 L1007.7 361.3 L1008.8 360.4 L1009.9 360.8 L1011.0 360.0 L1012.1 358.7 L1013.2 356.6 L1014.3 357.8 L1015.4 355.5 L1016.5 358.4 L1017.7 356.7 L1018.8 357.7 L1019.9 360.0 L1021.0 360.3 L1022.1 358.6 L1023.5 355.1 L1024.8 351.5 L1026.2 346.2 L1027.7 343.0 L1028.8 344.8 L1029.9 344.4 L1031.3 347.4 L1032.8 348.9 L1033.9 352.4 L1035.0 355.8 L1036.5 369.1 L1037.7 372.0 L1038.8 375.0 L1040.2 375.3 L1041.6 378.9 L1042.9 380.1 L1044.3 384.1 L1045.4 378.2 L1046.5 381.5 L1047.6 379.8 L1048.7 379.4 L1049.9 383.1 L1051.0 381.5 L1052.1 381.9 L1053.2 382.3 L1054.3 386.4 L1055.4 385.1 L1056.5 384.2 L1057.6 381.4 L1058.7 384.3 L1059.9 382.5 L1061.0 380.8 L1062.1 380.1 L1063.2 376.5 L1064.3 379.5 L1065.7 373.4 L1067.0 373.1 L1068.7 382.8 L1069.8 384.9 L1071.0 389.2 L1072.1 387.7 L1073.2 383.7 L1074.3 384.3 L1075.4 383.3 L1076.5 379.5 L1077.6 376.3 L1078.7 376.9 L1079.9 375.1 L1081.0 376.0 L1082.1 376.0 L1083.2 375.0 L1084.3 374.2 L1085.4 372.7 L1086.5 378.0 L1087.6 378.6 L1088.7 378.8 L1089.8 380.6 L1090.9 383.1 L1092.0 379.4 L1093.2 379.5 L1094.3 384.1 L1095.4 382.5 L1096.5 387.2 L1097.6 384.5 L1098.7 385.7 L1099.8 389.3 L1100.9 389.7 L1102.1 393.5 L1103.2 397.1 L1104.3 392.5 L1105.4 388.3 L1106.5 385.7 L1107.6 384.6 L1108.7 385.4 L1109.8 384.8 L1110.9 385.8 L1112.0 388.2 L1113.2 389.9 L1114.3 388.7 L1115.4 387.6 L1116.5 387.2 L1117.6 388.2 L1118.7 385.2 L1119.8 386.4 L1120.9 381.7 L1122.0 383.0 L1123.2 376.9 L1124.3 376.6 L1125.4 377.6 L1126.5 379.7 L1127.6 381.3 L1128.7 384.0 L1129.8 385.9 L1130.9 387.2 L1132.0 393.0 L1133.1 389.2 L1134.2 389.5 L1135.3 394.5 L1136.5 394.4 L1137.6 395.0 L1138.8 398.3 L1140.0 402.9 L1141.6 400.1 L1143.2 402.3 L1144.3 402.4 L1145.5 397.2 L1146.6 399.1 L1147.7 401.3 L1148.8 397.6 L1149.9 397.9 L1151.0 398.6 L1152.1 394.8 L1153.2 396.9 L1154.3 394.7 L1155.5 393.1 L1156.6 394.1 L1158.0 396.5 L1159.4 398.4 L1160.8 400.4 L1162.1 405.4 L1163.4 409.9 L1164.8 411.6 L1166.2 410.3 L1167.7 408.8 L1168.8 405.1 L1169.9 402.2 L1171.0 402.9 L1172.1 403.5 L1173.2 401.9 L1174.3 400.2 L1175.4 398.8 L1176.5 399.0 L1177.6 398.7 L1178.8 399.2 L1179.9 399.2 L1181.0 395.7 L1182.1 400.2 L1183.2 393.3 L1184.3 391.0 L1185.4 390.5 L1186.5 391.1 L1187.8 390.6 L1189.2 392.0 L1190.3 387.5 L1191.4 388.8 L1192.5 390.4 L1193.6 394.6 L1195.4 399.9 L1197.2 406.8" stroke="#b9ddd7" stroke-width="3.2"/>
</g>
<path d="M241.1 160.0 L242.0 162.3 L242.9 165.0 L243.8 179.5 L245.1 187.0 L246.0 172.3 L247.3 207.2 L248.4 211.4 L249.5 207.9 L250.3 202.1 L251.1 194.6 L252.2 191.3 L253.3 190.8 L254.4 193.2 L255.5 195.0 L256.6 192.9 L257.8 191.7 L258.9 190.2 L260.0 184.7 L260.8 181.7 L261.5 175.8 L262.4 174.7 L263.3 177.1 L264.2 180.8 L265.1 184.1 L266.2 193.4 L267.2 181.6 L268.2 169.6 L269.1 164.3 L270.0 161.3 L271.1 160.3 L272.2 158.3 L273.1 160.1 L274.0 163.4 L274.8 169.1 L275.5 178.9 L276.3 167.0 L277.1 156.8 L278.1 149.3 L279.0 149.1 L280.0 139.6 L281.1 151.2 L282.2 166.4 L283.3 155.7 L284.4 148.0 L285.4 146.8 L286.3 144.7 L287.3 140.2 L288.4 138.9 L289.5 140.6 L290.6 150.7 L291.7 159.8 L292.9 153.3 L294.0 140.1 L295.1 142.9 L296.2 145.2 L297.3 150.1 L298.4 154.8 L299.5 159.0 L300.6 160.5 L301.5 151.3 L302.4 143.0 L303.7 124.8 L305.1 147.2 L305.9 145.8 L306.6 139.4 L307.4 128.3 L308.2 119.6 L309.0 121.8 L309.9 123.5 L310.8 125.7 L311.7 134.3 L312.6 143.3 L313.5 146.9 L314.4 150.2 L315.5 151.8 L316.6 148.7 L317.7 149.2 L318.8 142.5 L320.0 143.5 L321.1 140.1 L322.2 145.3 L323.3 145.1 L324.4 147.7 L325.5 147.8 L326.6 148.5 L327.7 153.9 L328.8 149.0 L329.9 150.4 L331.0 153.3 L332.2 157.3 L333.3 157.2 L334.4 159.2 L335.5 155.7 L336.6 164.6 L337.7 162.3 L338.8 162.8 L339.9 164.1 L341.0 163.6 L342.1 163.6 L343.2 162.3 L344.4 165.0 L345.5 167.1 L346.6 168.8 L347.7 166.0 L348.8 166.0 L349.9 165.9 L351.0 166.2 L352.2 164.6 L353.3 163.0 L354.4 162.4 L355.5 166.5 L356.6 164.9 L357.7 169.0 L358.8 177.7 L359.9 182.8 L361.0 187.8 L361.8 192.7 L362.6 196.4 L363.5 191.2 L364.4 180.0 L365.5 171.2 L366.6 163.5 L367.7 158.7 L368.8 150.4 L369.6 155.1 L370.4 162.7 L371.2 150.7 L372.1 136.6 L373.2 132.1 L374.3 123.6 L375.5 119.5 L376.6 116.4 L377.5 130.1 L378.3 145.9 L379.1 139.8 L379.9 134.8 L381.0 149.3 L382.1 158.2 L383.2 154.4 L384.3 145.5 L385.3 146.0 L386.2 139.4 L387.2 139.2 L388.0 136.9 L388.8 141.4 L389.6 151.0 L390.3 160.6 L391.2 166.9 L392.1 167.0 L393.0 156.2 L393.9 152.2 L395.0 158.2 L396.1 158.5 L396.9 160.3 L397.7 169.3 L398.8 173.0 L399.9 181.0 L401.0 171.6 L402.1 208.3 L403.2 217.2 L404.3 203.0 L405.4 188.7 L406.3 199.0 L407.2 197.4 L408.3 198.4 L409.4 199.5 L410.2 192.0 L411.0 181.9 L412.1 181.0 L413.2 173.1 L414.3 176.2 L415.4 177.0 L416.5 169.7 L417.7 165.3 L418.8 171.8 L419.9 174.8 L421.0 179.5 L422.1 182.3 L423.2 187.0 L424.3 191.0 L425.4 191.1 L426.5 188.8 L427.6 189.6 L428.8 180.8 L429.9 181.0 L430.8 183.7 L431.6 191.6 L432.4 202.3 L433.2 214.9 L434.0 222.5 L434.8 234.9 L435.7 234.4 L436.7 237.0 L437.6 243.4 L438.8 234.5 L439.9 224.5 L441.0 224.4 L442.1 227.9 L443.2 224.1 L444.3 214.3 L445.4 213.9 L446.5 210.9 L447.6 216.5 L448.7 220.7 L449.8 227.8 L451.0 225.8 L452.1 226.9 L453.2 226.5 L454.3 225.8 L455.4 228.3 L456.5 233.6 L457.6 236.7 L458.7 226.7 L459.8 217.0 L461.0 201.2 L462.1 184.4 L463.2 183.5 L464.3 179.0 L465.4 177.8 L466.5 172.4 L467.3 160.1 L468.1 156.3 L469.4 186.8 L470.2 196.9 L471.0 209.4 L472.1 211.2 L473.2 214.7 L474.3 221.7 L475.4 218.1 L476.5 223.8 L477.6 225.8 L478.7 233.7 L479.8 235.0 L481.0 222.9 L482.1 207.7 L483.2 211.6 L484.3 209.9 L485.4 216.7 L486.5 219.3 L487.6 221.2 L488.7 222.7 L489.8 218.6 L490.9 206.9 L492.0 201.0 L493.2 192.8 L494.1 187.4 L494.9 181.6 L495.8 178.0 L497.2 225.5 L497.9 248.3 L498.7 266.2 L500.0 313.2 L501.1 290.2 L502.2 286.9 L503.3 287.6 L504.4 295.5 L505.5 290.8 L506.6 289.4 L507.8 283.6 L508.6 298.6 L509.3 305.0 L510.6 322.7 L511.8 312.9 L512.9 304.6 L514.0 298.0 L515.1 289.8 L515.9 276.8 L516.6 263.8 L517.8 291.6 L518.9 289.5 L520.0 286.9 L521.1 283.1 L522.2 283.1 L523.3 288.8 L524.4 296.6 L525.3 288.8 L526.2 281.7 L527.3 277.0 L528.4 270.8 L529.5 271.5 L530.6 265.3 L531.4 258.7 L532.2 246.3 L533.0 235.0 L533.7 220.3 L535.1 200.1 L535.5 182.3 L536.6 179.0 L537.7 180.6 L538.8 174.6 L540.0 177.9 L541.1 175.3 L542.2 171.6 L543.3 170.9 L544.4 168.2 L545.5 169.6 L546.6 174.1 L547.7 172.2 L548.7 174.4 L549.6 172.0 L550.6 165.8 L551.5 149.2 L552.6 154.2 L553.7 162.6 L554.6 155.7 L555.5 153.7 L556.4 145.6 L557.3 145.2 L558.2 117.2 L559.5 79.0 L560.3 91.4 L561.1 105.2 L561.9 95.3 L562.6 90.4 L563.9 78.4 L564.8 100.2 L565.7 125.6 L567.1 153.9 L568.2 136.0 L569.3 170.1 L570.6 188.5 L571.4 186.7 L572.2 185.0 L573.3 203.8 L574.4 217.3 L575.1 205.8 L575.9 197.8 L576.8 198.3 L577.7 188.6 L578.8 191.2 L579.9 198.6 L580.8 201.4 L581.7 204.1 L582.6 182.2 L583.5 172.8 L584.4 165.8 L585.3 161.3 L586.2 153.9 L587.0 149.9 L587.7 147.3 L588.5 150.2 L589.3 147.6 L590.6 135.9 L591.4 126.9 L592.1 114.6 L593.3 93.9 L594.1 107.0 L595.0 119.8 L595.8 104.7 L596.6 91.8 L597.7 134.1 L598.6 139.6 L599.5 145.9 L600.2 154.1 L601.0 162.4 L602.1 137.9 L603.3 115.3 L604.0 112.6 L604.8 111.4 L606.1 135.2 L606.9 125.8 L607.7 122.5 L608.8 157.3 L609.6 160.7 L610.4 169.0 L611.5 123.8 L612.8 103.4 L613.6 106.5 L614.4 113.6 L615.1 108.3 L615.9 104.0 L616.8 104.8 L617.7 110.2 L618.6 103.1 L619.5 96.3 L620.2 105.7 L621.0 120.6 L621.8 124.0 L622.6 127.3 L623.9 157.1 L624.7 143.8 L625.5 136.6 L626.2 122.6 L627.0 105.8 L628.3 125.5 L629.1 130.2 L629.9 133.7 L630.7 124.6 L631.5 118.8 L632.4 115.7 L633.2 113.8 L634.1 110.0 L635.0 105.8 L635.8 92.3 L636.6 86.6 L637.4 86.8 L638.1 79.3 L639.4 106.7 L640.2 101.7 L641.0 95.6 L641.8 110.1 L642.6 119.0 L643.5 116.4 L644.3 103.3 L645.2 95.4 L646.1 94.8 L646.9 90.7 L647.7 83.0 L648.5 81.1 L649.4 74.5 L650.2 81.8 L651.0 86.1 L651.9 89.2 L652.8 95.5 L653.5 100.2 L654.3 104.1 L655.4 117.0 L656.5 130.3 L657.7 161.0 L658.8 187.5 L659.9 203.2 L660.3 237.9 L661.7 257.1 L662.5 245.7 L663.4 243.3 L664.3 233.3 L665.2 227.7 L666.1 211.9 L666.9 203.3 L667.7 196.0 L668.8 198.6 L669.9 203.3 L670.6 210.2 L671.4 212.2 L672.3 209.8 L673.2 202.3 L674.3 194.5 L675.4 193.2 L676.3 200.8 L677.2 210.5 L678.0 217.9 L678.8 224.9 L679.9 217.7 L681.0 206.2 L682.1 204.7 L683.2 201.6 L684.3 177.8 L685.2 184.2 L686.1 193.1 L686.9 184.3 L687.6 176.5 L688.7 183.0 L689.9 213.0 L691.0 235.3 L692.1 257.6 L692.9 262.6 L693.6 268.1 L694.5 263.3 L695.4 256.0 L696.5 256.7 L697.6 249.1 L698.7 242.1 L699.5 250.0 L700.3 258.8 L701.6 279.8 L702.7 304.2 L703.5 305.7 L704.3 319.2 L705.4 321.4 L706.5 321.8 L707.4 333.4 L708.3 347.3 L709.1 335.6 L709.9 321.4 L711.0 316.1 L712.1 312.4 L712.9 308.1 L713.7 295.0 L714.6 307.3 L715.5 316.3 L716.4 325.5 L717.2 333.1 L718.3 336.6 L719.4 343.6 L720.5 332.7 L721.7 324.8 L722.5 340.1 L723.2 358.1 L724.3 379.9 L725.4 401.3 L726.6 422.6 L727.7 476.5 L728.5 485.8 L729.3 493.3 L730.6 508.2 L731.5 518.3 L732.4 503.6 L733.3 489.9 L734.2 480.8 L735.1 472.3 L735.9 456.5 L736.6 444.8 L737.4 452.3 L738.2 460.4 L739.0 450.2 L739.9 443.8 L740.8 448.7 L741.7 451.6 L742.5 440.7 L743.3 431.8 L744.4 423.4 L745.5 409.7 L746.3 399.0 L747.1 393.2 L748.0 386.0 L748.8 382.5 L749.9 374.3 L751.0 357.9 L751.9 347.3 L752.8 336.3 L753.5 327.5 L754.3 312.8 L755.4 290.4 L756.3 273.1 L757.3 254.5 L758.1 266.2 L758.9 276.0 L760.0 265.2 L760.8 252.7 L761.5 244.7 L762.9 289.5 L763.6 297.7 L764.4 307.3 L765.3 305.7 L766.2 295.4 L767.0 288.2 L767.8 284.8 L768.9 274.4 L770.0 301.5 L771.1 332.2 L772.2 343.0 L773.2 398.8 L774.1 406.3 L775.0 410.5 L775.8 404.0 L776.5 395.6 L777.6 397.4 L778.7 404.9 L779.5 378.5 L780.3 358.0 L781.2 355.6 L782.1 348.3 L783.2 355.4 L784.3 359.0 L785.2 371.4 L786.1 384.2 L786.9 393.2 L787.6 405.1 L788.7 406.1 L789.8 409.0 L791.0 402.9 L792.1 402.4 L793.2 401.6 L794.3 398.6 L795.4 398.4 L796.5 408.2 L797.6 400.6 L798.7 394.7 L799.9 390.5 L801.0 385.6 L802.1 375.3 L803.2 364.7 L804.0 355.4 L804.7 345.4 L805.6 333.1 L806.5 325.1 L807.6 314.9 L808.7 308.2 L809.8 297.1 L810.9 290.9 L812.2 270.3 L813.0 264.0 L813.7 253.6 L814.6 250.4 L815.5 247.1 L816.4 247.5 L817.3 254.8 L818.3 248.7 L819.3 240.7 L820.2 247.7 L821.1 250.2 L821.9 253.1 L822.6 261.5 L823.5 253.1 L824.4 247.3 L825.3 266.3 L826.2 278.7 L827.0 267.9 L827.7 259.8 L828.5 256.1 L829.3 251.2 L830.2 249.0 L831.1 242.5 L832.2 228.1 L833.0 233.6 L833.7 238.8 L835.0 248.0 L835.9 241.7 L836.8 232.8 L837.8 235.5 L838.8 238.9 L839.9 257.0 L841.0 281.5 L841.8 285.6 L842.6 291.9 L843.5 293.8 L844.4 296.9 L845.3 295.6 L846.2 287.8 L847.0 303.6 L847.7 320.4 L848.5 310.0 L849.3 301.5 L850.1 298.9 L851.0 296.8 L851.9 285.9 L852.8 280.5 L853.6 286.6 L854.4 292.9 L855.1 301.3 L855.9 317.6 L856.8 312.8 L857.7 307.1 L858.8 311.6 L859.9 319.7 L861.0 318.8 L862.1 320.8 L863.2 316.8 L864.4 315.4 L865.2 320.7 L866.1 321.9 L866.9 311.3 L867.7 298.1 L868.8 298.1 L869.9 293.0 L871.0 295.6 L872.1 293.8 L873.0 297.0 L873.9 304.1 L875.0 318.9 L875.8 310.7 L876.6 297.9 L877.4 310.4 L878.1 315.9 L879.5 278.7 L880.2 266.8 L881.0 254.5 L881.8 245.2 L882.6 235.4 L883.9 266.2 L884.7 268.7 L885.5 262.0 L886.2 276.8 L887.0 288.0 L887.9 297.6 L888.8 296.5 L889.7 295.6 L890.6 293.3 L891.7 277.7 L892.5 288.5 L893.2 298.6 L894.0 311.6 L894.8 325.9 L895.9 343.2 L897.3 353.6 L898.4 350.3 L899.5 350.4 L900.6 347.2 L901.7 343.1 L902.6 344.0 L903.5 345.0 L904.4 347.9 L905.5 342.0 L906.6 331.5 L907.7 321.5 L908.8 315.4 L910.0 309.8 L911.1 358.2 L912.0 361.6 L912.8 362.5 L913.6 353.2 L914.4 336.0 L915.1 328.0 L915.9 318.5 L916.8 310.2 L917.7 307.3 L918.5 299.2 L919.3 293.3 L920.4 314.6 L921.3 313.9 L922.2 317.8 L923.0 325.0 L923.9 331.6 L924.7 328.9 L925.5 325.9 L926.3 334.5 L927.1 339.5 L928.4 367.1 L929.1 376.2 L929.9 387.3 L931.0 394.3 L932.2 394.1 L933.3 390.1 L934.4 384.5 L935.5 378.5 L936.6 374.6 L937.4 362.7 L938.2 353.2 L939.0 345.1 L939.9 339.9 L941.3 324.9 L942.6 349.2 L943.9 365.3 L944.8 402.2 L946.2 422.7 L947.0 433.3 L948.4 460.2 L949.5 452.6 L950.6 450.9 L951.4 444.7 L952.2 430.5 L953.0 429.9 L953.8 428.2 L955.1 445.5 L955.9 439.0 L956.6 423.6 L957.4 415.6 L958.2 401.3 L959.1 398.5 L960.0 398.5 L960.9 403.4 L961.7 411.1 L962.5 401.5 L963.3 397.2 L964.4 396.6 L965.5 403.9 L966.6 396.5 L967.7 390.5 L968.8 379.2 L969.9 367.2 L971.0 362.3 L972.1 356.6 L972.9 353.5 L973.7 345.6 L974.8 331.0 L975.7 335.3 L976.6 346.5 L977.4 353.1 L978.1 360.0 L979.0 360.4 L979.9 355.7 L981.0 359.1 L982.1 363.4 L983.2 358.1 L984.3 355.7 L985.2 364.1 L986.1 368.0 L987.2 377.8 L988.3 382.9 L989.5 384.9 L990.6 384.9 L991.7 389.8 L992.8 393.3 L993.9 383.8 L995.0 375.4 L996.1 370.8 L997.2 363.2 L998.3 358.3 L999.4 361.7 L1000.2 357.6 L1001.0 355.2 L1002.1 338.6 L1003.2 371.9 L1004.4 402.6 L1005.5 406.6 L1006.6 405.3 L1007.5 413.9 L1008.4 412.3 L1009.1 419.1 L1009.9 419.4 L1010.7 421.9 L1011.5 430.6 L1012.4 437.8 L1013.3 440.1 L1014.1 433.8 L1015.0 432.2 L1015.8 439.1 L1016.6 446.6 L1017.4 454.7 L1018.2 455.2 L1019.0 452.7 L1019.9 454.0 L1020.8 459.2 L1021.7 464.1 L1022.5 444.3 L1023.3 434.5 L1024.0 427.4 L1024.8 424.3 L1026.2 443.5 L1027.0 439.6 L1027.7 431.9 L1028.5 426.9 L1029.3 418.8 L1030.2 415.1 L1031.0 412.4 L1032.1 399.7 L1032.9 395.2 L1033.7 389.0 L1035.0 386.2 L1035.8 398.4 L1036.5 407.6 L1037.3 415.8 L1038.1 415.1 L1039.0 411.6 L1039.9 412.0 L1040.8 398.6 L1041.6 388.6 L1042.4 372.0 L1043.2 369.3 L1044.0 360.8 L1044.8 355.7 L1045.7 353.1 L1046.5 345.7 L1047.6 331.1 L1048.4 343.2 L1049.2 346.6 L1050.1 351.1 L1051.0 355.7 L1051.8 362.0 L1052.7 369.3 L1053.5 372.3 L1054.3 375.9 L1055.1 375.5 L1055.9 364.0 L1056.8 369.2 L1057.6 371.5 L1058.5 369.5 L1059.4 359.7 L1060.2 363.6 L1061.0 367.0 L1061.8 363.8 L1062.5 354.5 L1063.4 357.9 L1064.3 362.7 L1065.2 357.3 L1066.1 350.2 L1067.0 332.5 L1068.3 368.2 L1069.4 389.4 L1070.5 413.7 L1071.0 412.3 L1072.1 429.6 L1073.2 442.7 L1074.3 440.1 L1075.5 439.7 L1076.3 433.5 L1077.2 428.1 L1078.0 420.7 L1078.8 418.0 L1079.5 412.7 L1080.3 406.9 L1081.4 412.3 L1082.6 410.6 L1083.4 404.7 L1084.3 402.0 L1085.2 409.1 L1086.1 418.4 L1086.9 423.5 L1087.7 429.9 L1088.5 437.7 L1089.2 444.1 L1090.6 429.2 L1091.3 425.3 L1092.1 420.7 L1093.2 422.8 L1094.3 426.0 L1095.4 422.9 L1096.5 421.5 L1097.7 423.5 L1098.8 428.1 L1099.5 433.1 L1100.3 433.1 L1101.7 458.2 L1102.5 477.2 L1103.2 491.7 L1104.3 484.5 L1105.4 484.9 L1106.4 482.7 L1107.3 486.7 L1108.3 481.9 L1109.1 490.0 L1109.9 494.9 L1111.0 497.9 L1112.1 500.1 L1113.2 503.1 L1114.3 502.2 L1115.4 508.3 L1116.5 510.1 L1117.7 502.1 L1118.8 496.1 L1119.9 488.7 L1121.0 482.5 L1122.1 483.2 L1123.2 479.0 L1124.3 476.2 L1125.4 480.9 L1126.5 477.4 L1127.6 478.2 L1128.8 481.5 L1129.9 484.9 L1131.0 481.9 L1132.1 473.7 L1132.8 485.1 L1133.6 487.4 L1135.0 470.9 L1135.8 482.7 L1136.5 489.0 L1137.3 490.5 L1138.1 497.4 L1139.4 523.5 L1140.2 508.4 L1141.0 496.5 L1142.1 491.8 L1143.2 488.2 L1144.3 485.7 L1145.4 485.6 L1146.5 479.2 L1147.6 476.3 L1148.7 476.2 L1149.8 470.4 L1150.9 470.1 L1152.1 467.7 L1153.2 462.1 L1154.3 460.5 L1155.4 459.0 L1156.5 456.5 L1157.6 449.6 L1158.7 448.6 L1159.5 448.2 L1160.3 446.8 L1161.2 452.9 L1162.1 455.9 L1162.9 460.5 L1163.8 464.7 L1164.6 464.6 L1165.4 452.0 L1166.2 445.3 L1166.9 436.4 L1167.8 428.9 L1168.7 423.6 L1169.8 418.7 L1170.9 414.2 L1172.1 410.9 L1173.2 414.6 L1174.3 424.3 L1175.4 432.8 L1176.5 428.3 L1177.6 428.8 L1178.7 424.6 L1179.8 417.7 L1180.9 410.7 L1182.0 410.1 L1183.2 401.3 L1184.3 394.7 L1185.4 393.9 L1186.5 388.7 L1187.7 367.5 L1188.8 364.3 L1189.9 357.7 L1190.7 354.3 L1191.4 358.7 L1192.8 366.3 L1193.5 375.9 L1194.3 389.7 L1195.1 401.9 L1195.9 412.0" fill="none" stroke="#bababf" stroke-width="1.65" stroke-dasharray="6.2 2.7" stroke-linejoin="round"/>
<rect x="193" y="51" width="1052" height="493" fill="none" stroke="#b3d9d3" stroke-width="2"/>
<line x1="184.8" y1="100.0" x2="193" y2="100.0" stroke="#b3d9d3" stroke-width="2"/><text class="tk" transform="translate(180.4,105.3) scale(1,1.05)" text-anchor="end">0</text>
<line x1="184.8" y1="205.0" x2="193" y2="205.0" stroke="#b3d9d3" stroke-width="2"/><text class="tk" transform="translate(180.4,210.3) scale(1,1.05)" text-anchor="end">−10</text>
<line x1="184.8" y1="311.0" x2="193" y2="311.0" stroke="#b3d9d3" stroke-width="2"/><text class="tk" transform="translate(180.4,316.3) scale(1,1.05)" text-anchor="end">−20</text>
<line x1="184.8" y1="416.0" x2="193" y2="416.0" stroke="#b3d9d3" stroke-width="2"/><text class="tk" transform="translate(180.4,421.3) scale(1,1.05)" text-anchor="end">−30</text>
<line x1="184.8" y1="522.0" x2="193" y2="522.0" stroke="#b3d9d3" stroke-width="2"/><text class="tk" transform="translate(180.4,527.3) scale(1,1.05)" text-anchor="end">−40</text>
<line x1="1245" y1="101.0" x2="1253.2" y2="101.0" stroke="#b3d9d3" stroke-width="2"/><text class="tk" transform="translate(1259,106.3) scale(1,1.05)">60.0</text>
<line x1="1245" y1="157.0" x2="1253.2" y2="157.0" stroke="#b3d9d3" stroke-width="2"/><text class="tk" transform="translate(1259,162.3) scale(1,1.05)">59.8</text>
<line x1="1245" y1="212.0" x2="1253.2" y2="212.0" stroke="#b3d9d3" stroke-width="2"/><text class="tk" transform="translate(1259,217.3) scale(1,1.05)">59.6</text>
<line x1="1245" y1="267.5" x2="1253.2" y2="267.5" stroke="#b3d9d3" stroke-width="2"/><text class="tk" transform="translate(1259,272.8) scale(1,1.05)">59.4</text>
<line x1="1245" y1="323.0" x2="1253.2" y2="323.0" stroke="#b3d9d3" stroke-width="2"/><text class="tk" transform="translate(1259,328.3) scale(1,1.05)">59.2</text>
<line x1="1245" y1="378.0" x2="1253.2" y2="378.0" stroke="#b3d9d3" stroke-width="2"/><text class="tk" transform="translate(1259,383.3) scale(1,1.05)">59.0</text>
<line x1="1245" y1="434.0" x2="1253.2" y2="434.0" stroke="#b3d9d3" stroke-width="2"/><text class="tk" transform="translate(1259,439.3) scale(1,1.05)">58.8</text>
<line x1="1245" y1="489.0" x2="1253.2" y2="489.0" stroke="#b3d9d3" stroke-width="2"/><text class="tk" transform="translate(1259,494.3) scale(1,1.05)">58.6</text>
<text class="tk" transform="translate(250.1,567.6) rotate(-45) scale(1,1.05)" text-anchor="end">2026-01-21</text>
<text class="tk" transform="translate(377.5,567.6) rotate(-45) scale(1,1.05)" text-anchor="end">2026-01-25</text>
<text class="tk" transform="translate(504.9,567.6) rotate(-45) scale(1,1.05)" text-anchor="end">2026-01-29</text>
<text class="tk" transform="translate(600.5,567.6) rotate(-45) scale(1,1.05)" text-anchor="end">2026-02-01</text>
<text class="tk" transform="translate(727.9,567.6) rotate(-45) scale(1,1.05)" text-anchor="end">2026-02-05</text>
<text class="tk" transform="translate(855.2,567.6) rotate(-45) scale(1,1.05)" text-anchor="end">2026-02-09</text>
<text class="tk" transform="translate(982.7,567.6) rotate(-45) scale(1,1.05)" text-anchor="end">2026-02-13</text>
<text class="tk" transform="translate(1110.0,567.6) rotate(-45) scale(1,1.05)" text-anchor="end">2026-02-17</text>
<text class="tk" transform="translate(1237.4,567.6) rotate(-45) scale(1,1.05)" text-anchor="end">2026-02-21</text>
<text class="ax" x="719" y="639.8" text-anchor="middle">Date</text>
<text class="ax" transform="translate(104.4,298.6) rotate(-90)" text-anchor="middle">Returns (%)</text>
<text class="ax" transform="translate(1339.5,299.3) rotate(-90)" text-anchor="middle">Dominance (%)</text>
<rect x="10.4" y="58.3" width="137.2" height="78" rx="2.6" fill="#1c2536" stroke="#3fc4c8" stroke-width="1.3"/>
<text class="lt" transform="translate(78.8,73.6) scale(1,1.134)" text-anchor="middle">Assets</text>
<line x1="15.6" y1="88.4" x2="40.6" y2="88.4" stroke="#4fd0d3" stroke-width="3.1" stroke-linecap="round"/><text class="lg" transform="translate(50.8,92.0) scale(1,1.05)">BTCUSD</text>
<line x1="15.6" y1="106.5" x2="40.6" y2="106.5" stroke="#1b7fa9" stroke-width="3.1" stroke-linecap="round"/><text class="lg" transform="translate(50.8,110.4) scale(1,1.05)">ETHUSD</text>
<line x1="15.6" y1="124.6" x2="40.6" y2="124.6" stroke="#b9ddd7" stroke-width="3.1" stroke-linecap="round"/><text class="lg" transform="translate(50.8,128.8) scale(1,1.05)">COIN50USDC.P</text>
<rect x="10.4" y="146.6" width="137.2" height="42.9" rx="2.6" fill="#1c2536" stroke="#3fc4c8" stroke-width="1.3"/>
<text class="lt" transform="translate(78.0,163.4) scale(1,1.134)" text-anchor="middle">Market</text>
<line x1="14.9" y1="176" x2="39.6" y2="176" stroke="#bababf" stroke-width="1.7" stroke-dasharray="6.2 2.7"/><text class="lg" style="font-size:12.55px" transform="translate(50.3,180.9) scale(1,1.05)">BTC Dominance</text>
</svg></body></html>
